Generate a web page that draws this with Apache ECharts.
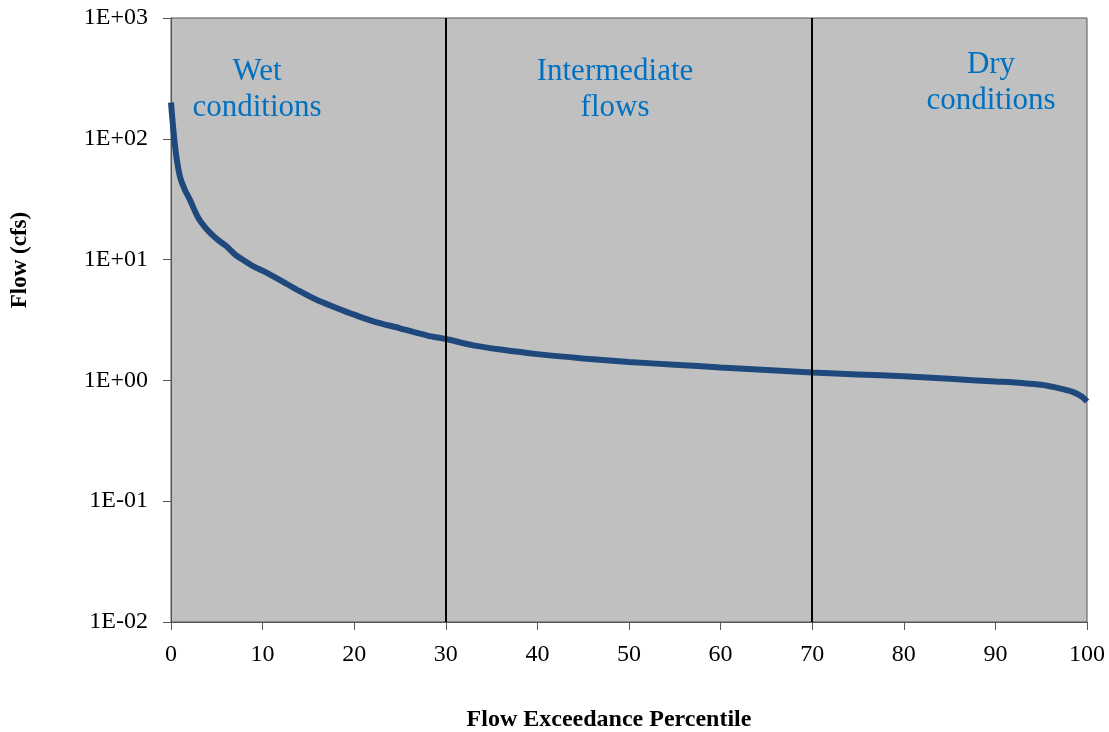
<!DOCTYPE html>
<html>
<head>
<meta charset="utf-8">
<script src="https://cdn.jsdelivr.net/npm/echarts@6/dist/echarts.min.js"></script>
<style>html,body{margin:0;padding:0;background:#fff;}#c{width:1109px;height:732px;}</style>
</head>
<body>
<div id="c"></div>
<script>
// Flow duration curve data
const percentiles = [0, 0.3, 0.6, 1, 1.5, 2, 3, 4, 5, 6, 7, 8, 9, 10, 12, 14, 16, 18, 20, 22, 25, 28, 30, 33, 36, 40, 45, 50, 55, 60, 65, 70, 75, 80, 85, 90, 93, 95, 97, 98.5, 99.5, 100];
const flows = [200, 110, 70, 48, 38, 32, 22, 17.5, 14.8, 13, 11, 9.8, 8.8, 8.1, 6.7, 5.5, 4.6, 4.0, 3.5, 3.1, 2.7, 2.35, 2.2, 1.95, 1.8, 1.65, 1.52, 1.42, 1.35, 1.28, 1.22, 1.16, 1.12, 1.08, 1.03, 0.98, 0.95, 0.92, 0.86, 0.80, 0.73, 0.67];
const yTickLabels = ['1E-02', '1E-01', '1E+00', '1E+01', '1E+02', '1E+03'];
const xTicks = [0, 10, 20, 30, 40, 50, 60, 70, 80, 90, 100];
const dividers = [30, 70];
const zoneLabels = ['Wet\nconditions', 'Intermediate\nflows', 'Dry\nconditions'];

const serif = '"Liberation Serif", "Times New Roman", serif';
const chart = echarts.init(document.getElementById('c'));
const points = percentiles.map((p, i) => [p, flows[i]]);

chart.setOption({
  animation: false,
  backgroundColor: '#ffffff',
  grid: {
    left: 171, right: 22, top: 18, bottom: 110,
    show: true, backgroundColor: '#c0c0c0', borderColor: '#555555', borderWidth: 1
  },
  xAxis: {
    type: 'value', min: 0, max: 100, interval: 10,
    axisLine: { show: true, lineStyle: { color: '#555555', width: 1 } },
    axisTick: { show: true, inside: false, length: 8, lineStyle: { color: '#555555' } },
    splitLine: { show: false },
    axisLabel: {
      margin: 21, color: '#000', fontFamily: serif, fontSize: 24,
      formatter: v => xTicks.indexOf(v) >= 0 ? String(v) : ''
    }
  },
  yAxis: {
    type: 'log', logBase: 10, min: 0.01, max: 1000,
    axisLine: { show: true, lineStyle: { color: '#555555', width: 1 } },
    axisTick: { show: true, inside: false, length: 8, lineStyle: { color: '#555555' } },
    splitLine: { show: false },
    axisLabel: {
      margin: 23, color: '#000', fontFamily: serif, fontSize: 24,
      formatter: v => {
        const e = Math.round(Math.log10(v));
        return yTickLabels[e + 2] || '';
      }
    }
  },
  series: [{
    type: 'line',
    data: points,
    symbol: 'none',
    smooth: 0.3,
    lineStyle: { color: '#1f497d', width: 6 },
    markLine: {
      silent: true,
      symbol: 'none',
      label: { show: false },
      lineStyle: { color: '#000', width: 2, type: 'solid' },
      data: dividers.map(d => ({ xAxis: d }))
    }
  }],
  graphic: [
    {
      type: 'text', x: 257, y: 54,
      style: { text: zoneLabels[0], fill: '#0070c0', font: '31px ' + serif, textAlign: 'center', textVerticalAlign: 'top', lineHeight: 36 }
    },
    {
      type: 'text', x: 615, y: 54,
      style: { text: zoneLabels[1], fill: '#0070c0', font: '31px ' + serif, textAlign: 'center', textVerticalAlign: 'top', lineHeight: 36 }
    },
    {
      type: 'text', x: 991, y: 47,
      style: { text: zoneLabels[2], fill: '#0070c0', font: '31px ' + serif, textAlign: 'center', textVerticalAlign: 'top', lineHeight: 36 }
    },
    {
      type: 'text', x: 609, y: 720,
      style: { text: 'Flow Exceedance Percentile', fill: '#000', font: 'bold 24px ' + serif, textAlign: 'center', textVerticalAlign: 'middle' }
    },
    {
      type: 'text', x: 20, y: 260, rotation: Math.PI / 2,
      style: { text: 'Flow (cfs)', fill: '#000', font: 'bold 23px ' + serif, textAlign: 'center', textVerticalAlign: 'middle' }
    }
  ]
});
</script>
</body>
</html>
